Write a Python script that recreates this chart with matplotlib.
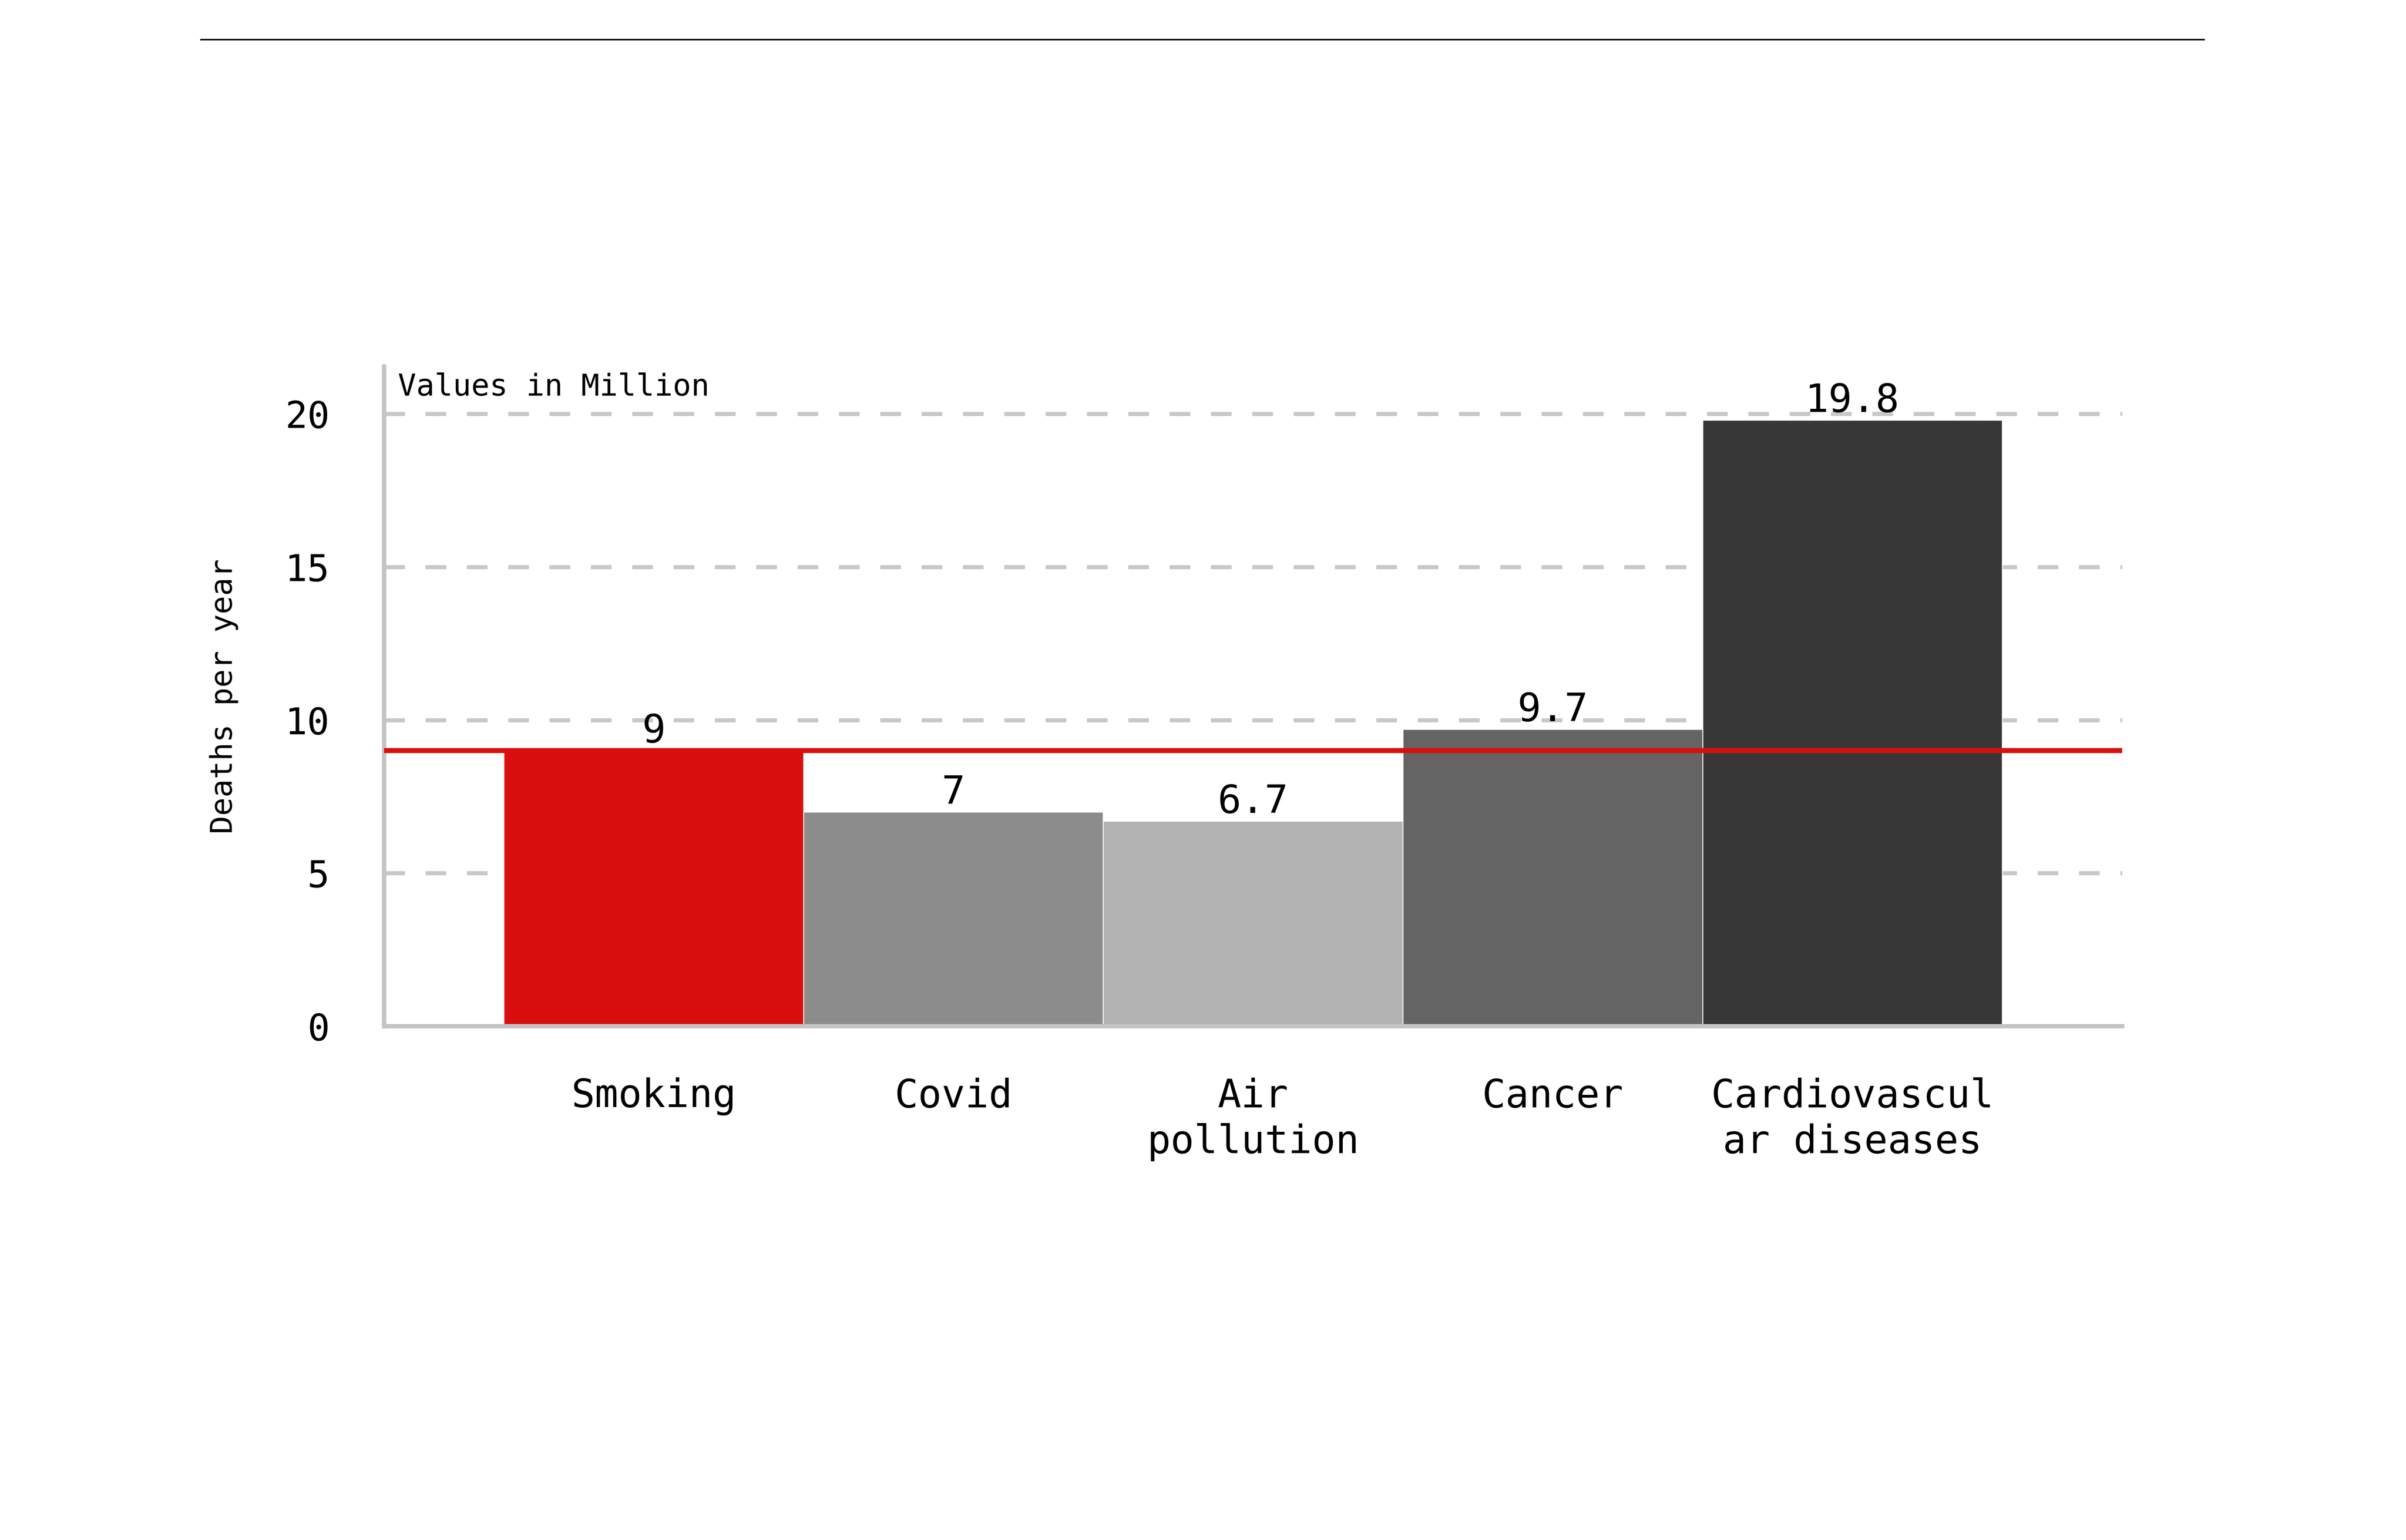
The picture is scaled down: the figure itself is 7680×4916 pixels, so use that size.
import numpy as np
import matplotlib
matplotlib.use("Agg")
from matplotlib import pyplot as plt
from matplotlib.lines import Line2D

# data
causes = ["Smoking", "Covid", "Air\npollution", "Cancer", "Cardiovascul\nar diseases"]
deaths = [9, 7, 6.7, 9.7, 19.8]
bar_colors = ["#d90f0f", "#8c8c8c", "#b3b3b3", "#646464", "#373737"]
smoking_level = 9
yticks = [0, 5, 10, 15, 20]

plt.rcParams['font.family'] = ['DejaVu Sans Mono', 'DejaVu Sans']

fig = plt.figure(figsize=(15.36, 9.832), dpi=500)
ax = fig.add_axes([0.1596, 0.3336, 0.7224, 0.4284])

x = np.arange(len(causes))
bars = ax.bar(x, deaths, width=1.0, color=bar_colors, edgecolor="white",
              linewidth=0.4, zorder=2)
ax.bar_label(bars, fmt="%g", padding=0, fontsize=18, color="black")

ax.axhline(smoking_level, color="#d90f0f", linewidth=2.3, zorder=3)

ax.set_xlim(-0.9, 4.9)
ax.set_ylim(0, 21.55)
ax.set_xticks(x)
ax.set_xticklabels(causes, fontsize=18, linespacing=1.25)
ax.set_yticks(yticks)
ax.set_yticklabels([str(t) for t in yticks], fontsize=17)
ax.tick_params(axis="x", length=0, pad=23.5)
ax.tick_params(axis="y", length=0, pad=25)

ax.yaxis.grid(True, color="#c8c8c8", linewidth=1.9, linestyle=(0, (5, 5)))
ax.set_axisbelow(True)

for side in ["top", "right"]:
    ax.spines[side].set_visible(False)
for side in ["left", "bottom"]:
    ax.spines[side].set_color("#c4c4c4")
    ax.spines[side].set_linewidth(2.0)

ax.set_ylabel("Deaths per year", fontsize=14)
ax.yaxis.set_label_coords(-0.0837, 0.5)

ax.text(0.008, 0.956, "Values in Million", transform=ax.transAxes,
        fontsize=14, va="baseline", ha="left")

# header rule
fig.add_artist(Line2D([0.0835, 0.916], [0.9744, 0.9744], color="black",
                      linewidth=0.7, transform=fig.transFigure))

fig.savefig("out.png", dpi=500, facecolor="white")
